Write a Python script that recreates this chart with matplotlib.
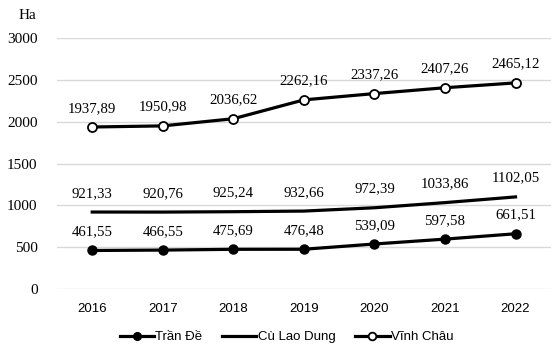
import matplotlib
matplotlib.use("Agg")
import matplotlib.pyplot as plt

years = ["2016", "2017", "2018", "2019", "2020", "2021", "2022"]
tran_de = [461.55, 466.55, 475.69, 476.48, 539.09, 597.58, 661.51]
cu_lao_dung = [921.33, 920.76, 925.24, 932.66, 972.39, 1033.86, 1102.05]
vinh_chau = [1937.89, 1950.98, 2036.62, 2262.16, 2337.26, 2407.26, 2465.12]
y_ticks = [0, 500, 1000, 1500, 2000, 2500, 3000]

SERIF = "Liberation Serif"
SANS = "Liberation Sans"


def fmt(v):
    # dấu phẩy thập phân kiểu Việt Nam
    return f"{v:.2f}".replace(".", ",")


fig = plt.figure(figsize=(5.53, 3.5), dpi=100)
ax = fig.add_axes([0.103, 0.174, 0.893, 0.717])

x = list(range(len(years)))
lw = 2.3
ax.plot(x, tran_de, color="black", lw=lw, marker="o", ms=6.5,
        mfc="black", mec="black", label="Trần Đề", zorder=3)
ax.plot(x, cu_lao_dung, color="black", lw=lw, label="Cù Lao Dung", zorder=3)
ax.plot(x, vinh_chau, color="black", lw=lw, marker="o", ms=6.5,
        mfc="white", mec="black", mew=1.3, label="Vĩnh Châu", zorder=3)

for series in (tran_de, cu_lao_dung, vinh_chau):
    for xi, v in zip(x, series):
        ax.annotate(fmt(v), (xi, v), xytext=(0, 13.5), textcoords="offset points",
                    ha="center", va="center", fontsize=10.7, family=SERIF)

ax.set_xlim(-0.5, len(years) - 0.5)
ax.set_ylim(0, 3000)
ax.set_yticks(y_ticks)
ax.set_yticklabels([str(t) for t in y_ticks], family=SERIF, fontsize=11)
ax.set_xticks(x)
ax.set_xticklabels(years, family=SANS, fontsize=9.5)
ax.tick_params(length=0)
ax.tick_params(axis="y", pad=14)
ax.tick_params(axis="x", pad=10)
ax.grid(axis="y", color="#d9d9d9", lw=1)
ax.set_axisbelow(True)
for s in ax.spines.values():
    s.set_visible(False)

fig.text(0.033, 0.955, "Ha", family=SERIF, fontsize=11, va="center")

fig.legend(loc="center", bbox_to_anchor=(0.518, 0.037), ncol=3, frameon=False,
           prop={"family": SANS, "size": 9.5}, handlelength=2.6, handletextpad=0.1,
           columnspacing=1.5, markerscale=0.85)

fig.savefig("out.png", dpi=100)
